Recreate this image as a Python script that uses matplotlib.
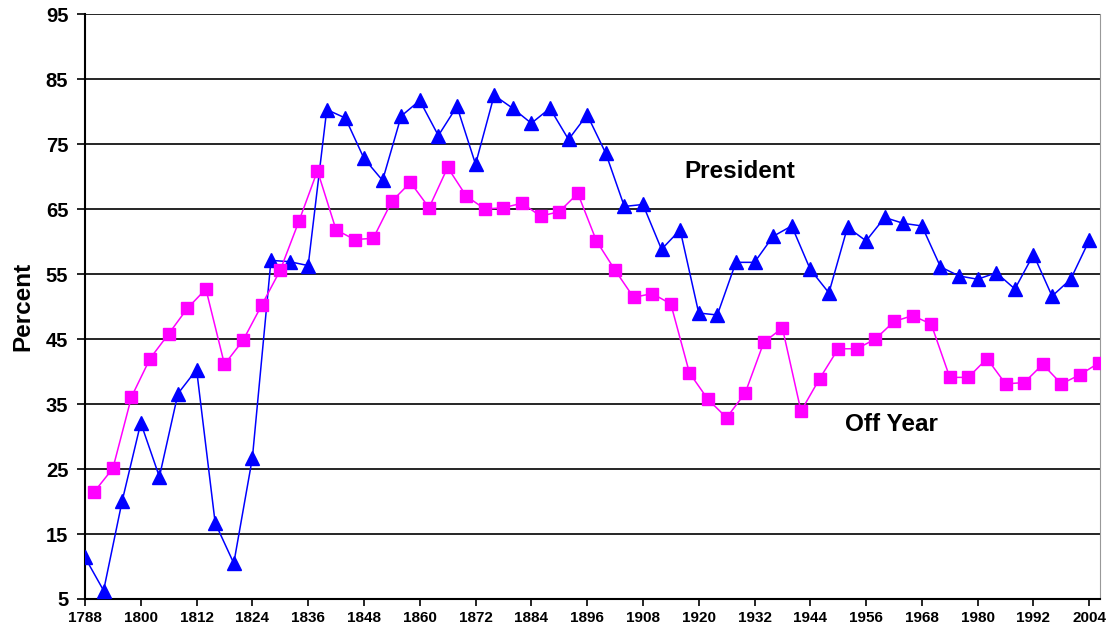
import matplotlib
matplotlib.use("Agg")
import matplotlib.pyplot as plt
import numpy as np

# turnout, presidential years 1788-2004 and off years 1790-2006
pres_years = list(range(1788, 2005, 4))
pres_vals = [11.4, 6.3, 20.1, 32.1, 23.8, 36.6, 40.3, 16.7, 10.5, 26.7,
             57.1, 56.9, 56.3, 80.3, 79.0, 72.8, 69.4, 79.3, 81.7, 76.3,
             80.8, 71.9, 82.5, 80.5, 78.2, 80.5, 75.7, 79.5, 73.6, 65.4,
             65.7, 58.8, 61.8, 49.0, 48.7, 56.8, 56.8, 60.8, 62.4, 55.7,
             52.1, 62.2, 60.1, 63.7, 62.8, 62.4, 56.1, 54.7, 54.2, 55.2,
             52.7, 58.0, 51.6, 54.2, 60.2]

off_years = list(range(1790, 2007, 4))
off_vals = [21.5, 25.1, 36.1, 42.0, 45.8, 49.7, 52.7, 41.1, 44.8, 50.2,
            55.6, 63.1, 70.9, 61.8, 60.3, 60.5, 66.2, 69.1, 65.2, 71.4,
            67.0, 65.0, 65.2, 65.9, 63.9, 64.6, 67.4, 60.1, 55.6, 51.4,
            52.0, 50.4, 39.8, 35.7, 32.9, 36.7, 44.5, 46.7, 33.9, 38.9,
            43.5, 43.5, 45.0, 47.7, 48.6, 47.3, 39.1, 39.1, 42.0, 38.1,
            38.3, 41.1, 38.1, 39.5, 41.3]

xticks = list(range(1788, 2005, 12))
yticks = list(range(5, 96, 10))

plt.rcParams['font.family'] = ['Liberation Sans', 'DejaVu Sans']

fig = plt.figure(figsize=(11.14, 6.39), dpi=100)
ax = fig.add_axes([0.0763, 0.0626, 0.9111, 0.9154])

for y in yticks[1:]:
    ax.axhline(y, color='black', lw=1.2, zorder=1)

ax.plot(pres_years, pres_vals, color='#0000ff', lw=1.1, marker='^',
        markersize=9.5, zorder=3)
ax.plot(off_years, off_vals, color='#ff00ff', lw=1.1, marker='s',
        markersize=8.5, zorder=3)

ax.set_xlim(1788, 2006.3)
ax.set_ylim(5, 95)
ax.set_xticks(xticks)
ax.set_yticks(yticks)
ax.tick_params(axis='x', direction='out', length=5, width=1.2,
               labelsize=11)
ax.tick_params(axis='y', direction='out', length=6, width=1.2,
               labelsize=14.5, pad=6)
for lab in ax.get_xticklabels() + ax.get_yticklabels():
    lab.set_fontweight('bold')

ax.spines['left'].set_linewidth(1.5)
ax.spines['bottom'].set_linewidth(1.5)
ax.spines['top'].set_visible(False)
ax.spines['right'].set_color('#999999')

ax.set_ylabel('Percent', fontsize=17.5, fontweight='bold', labelpad=8)

ax.text(1917, 70.7, 'President', fontsize=17.5, fontweight='bold', va='center')
ax.text(1951.4, 31.9, 'Off Year', fontsize=17.5, fontweight='bold', va='center')

fig.savefig('out.png', dpi=100)
